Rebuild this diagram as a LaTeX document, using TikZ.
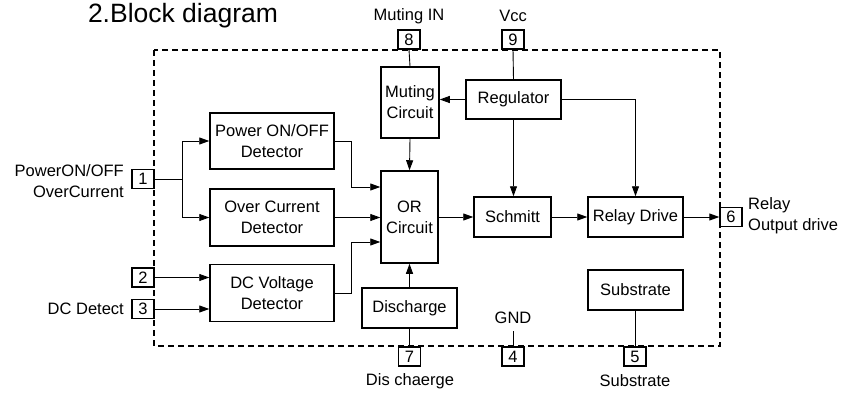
\documentclass[tikz,border=0pt]{standalone}
\usepackage{fontspec}
\setmainfont{Liberation Sans}
\usetikzlibrary{arrows.meta,calc}
\begin{document}
\begin{tikzpicture}[x=1pt,y=-1pt,
  font=\fontsize{16.5}{21}\selectfont,
  blk/.style={draw,line width=1.5pt,align=center,inner sep=0pt},
  pin/.style={draw,line width=1.4pt,minimum width=22pt,minimum height=19pt,inner sep=0pt},
  wire/.style={line width=0.9pt},
  arr/.style={wire,-{Triangle[length=10pt,width=7pt]}},
  lbl/.style={inner sep=0pt,align=center}]
\useasboundingbox (0,0) rectangle (845,394);
\node[lbl,font=\fontsize{26.5}{30}\selectfont] (title) at (183,16) {2.Block diagram};
\draw[line width=1.4pt,dash pattern=on 6pt off 4pt] (154,50) rectangle (720,346);
% blocks
\node[blk,minimum width=124pt,minimum height=56pt] (power) at (272,141) {Power ON/OFF\\Detector};
\node[blk,minimum width=124pt,minimum height=57pt] (over) at (272,217.5) {Over Current\\Detector};
\node[blk,minimum width=124pt,minimum height=57pt] (dcv) at (272,293) {DC Voltage\\Detector};
\node[blk,minimum width=57pt,minimum height=92pt] (orc) at (409.5,217) {OR\\Circuit};
\node[blk,minimum width=58pt,minimum height=71pt] (mute) at (410,102.5) {Muting\\Circuit};
\node[blk,minimum width=95pt,minimum height=39pt] (reg) at (513.5,99.5) {Regulator};
\node[blk,minimum width=77pt,minimum height=40pt] (schmitt) at (512.5,217) {Schmitt};
\node[blk,minimum width=95pt,minimum height=40pt] (relay) at (635.5,217) {Relay Drive};
\node[blk,minimum width=95pt,minimum height=40pt] (disc) at (409.5,308) {Discharge};
\node[blk,minimum width=95pt,minimum height=40pt] (subs) at (635.5,290) {Substrate};
% pins
\node[pin] (p8) at (409,39.5) {8};
\node[pin] (p9) at (513,39.5) {9};
\node[pin] (p1) at (143,179) {1};
\node[pin] (p2) at (143,277.5) {2};
\node[pin] (p3) at (143,309) {3};
\node[pin] (p6) at (731,217) {6};
\node[pin] (p7) at (409.5,356.5) {7};
\node[pin] (p4) at (513,356.5) {4};
\node[pin] (p5) at (635,356.5) {5};
% labels
\node[lbl] (lmute) at (409,16) {Muting IN};
\node[lbl] (lvcc) at (513,16) {Vcc};
\node[lbl,anchor=east,align=right] (lp1) at (124,181) {PowerON/OFF\\OverCurrent};
\node[lbl,anchor=east] (lp3) at (124,309) {DC Detect};
\node[lbl,anchor=west,align=left] (lp6) at (748,216) {Relay\\Output drive};
\node[lbl] (lp7) at (410,381) {Dis chaerge};
\node[lbl] (lp5) at (635,381) {Substrate};
\node[lbl] (gnd) at (513,318) {GND};
\coordinate (gndend) at (513,331);
\coordinate (split) at (182,179);
% wires
\draw[wire] (p8.south) -- (mute.north);
\draw[wire] (p9.south) -- (reg.north);
\draw[arr] (reg.west) -- (reg.west -| mute.east);
\draw[arr] (reg.east) -| (relay.north);
\draw[arr] (reg.south) -- (reg.south |- schmitt.north);
\draw[arr] (mute.south) -- (orc.north);
\draw[wire] (p1.east) -- (split);
\draw[arr] (split) |- (power.west);
\draw[arr] (split) |- (over.west);
\draw[arr] (p2.east) -- (p2.east -| dcv.west);
\draw[arr] (p3.east) -- (p3.east -| dcv.west);
\draw[arr] (power.east) -- ++(17,0) |- ($(orc.west)+(0,-30)$);
\draw[arr] (over.east) -- (over.east -| orc.west);
\draw[arr] (dcv.east) -- ++(17,0) |- ($(orc.west)+(0,25)$);
\draw[arr] (disc.north) -- (orc.south);
\draw[arr] (orc.east) -- (schmitt.west);
\draw[arr] (schmitt.east) -- (relay.west);
\draw[arr] (relay.east) -- (p6.west);
\draw[wire] (p7.north) -- (disc.south);
\draw[wire] (p4.north) -- (gndend);
\draw[wire] (subs.south) -- (subs.south |- p5.north);
\end{tikzpicture}
\end{document}
